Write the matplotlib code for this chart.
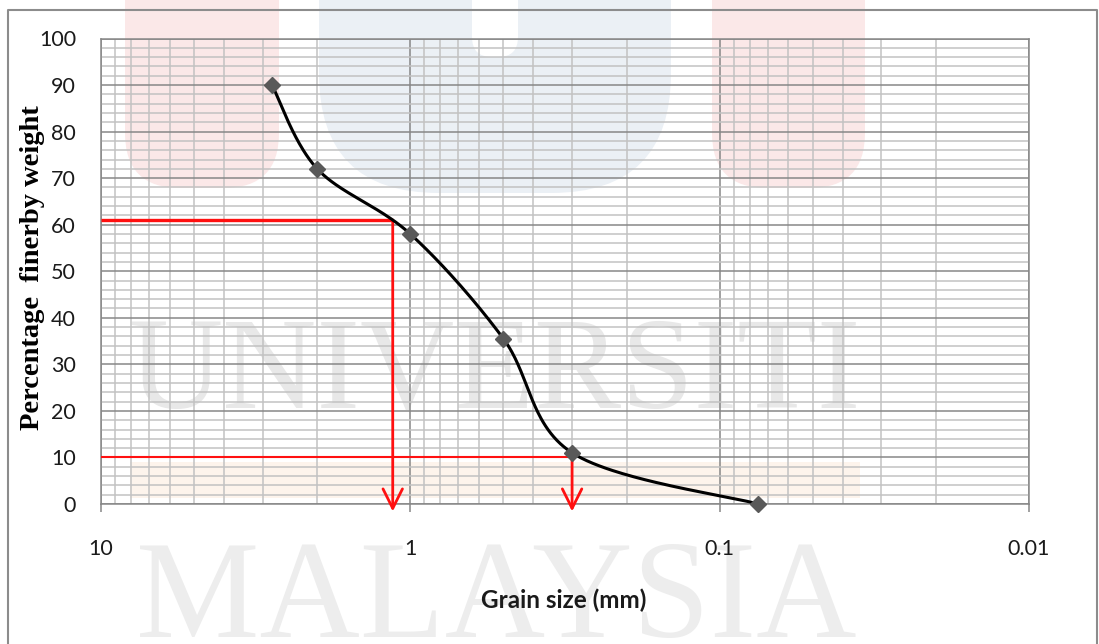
import numpy as np
import matplotlib
matplotlib.use('Agg')
import matplotlib.pyplot as plt
from matplotlib.patches import FancyBboxPatch, Rectangle
from matplotlib.ticker import LogLocator, MultipleLocator, FixedLocator, FixedFormatter, NullFormatter

# ---------------- data ----------------
grain_size = [2.8, 2.0, 1.0, 0.5, 0.3, 0.075]      # mm
percent_finer = [90, 72, 58, 35.5, 11, 0]          # %
d60_size, d60_level = 1.14, 61
d10_size, d10_level = 0.30, 10
x_ticks = [10, 1, 0.1, 0.01]
x_tick_labels = ['10', '1', '0.1', '0.01']
y_ticks = list(range(0, 101, 10))
x_label = 'Grain size (mm)'
y_label = 'Percentage  finerby weight'
watermark_top = 'UNIVERSITI'
watermark_bottom = 'MALAYSIA'

W, H = 1099, 644
fig = plt.figure(figsize=(W / 100, H / 100), dpi=100)
fig.patch.set_facecolor('white')

# ---------------- background (watermark + outer border) ----------------
bg = fig.add_axes([0, 0, 1, 1], zorder=-5)
bg.set_xlim(0, W)
bg.set_ylim(H, 0)
bg.axis('off')

pink = '#fbe8e8'
blue = '#ebf0f5'
bg.add_patch(FancyBboxPatch((125 + 55, -200), 154 - 110, 388 - 55,
                            boxstyle='round,pad=55', fc=pink, ec='none', zorder=0))
bg.add_patch(FancyBboxPatch((712 + 55, -200), 153 - 110, 388 - 55,
                            boxstyle='round,pad=55', fc=pink, ec='none', zorder=0))
bg.add_patch(FancyBboxPatch((319 + 120, -300), 352 - 240, 493 - 120,
                            boxstyle='round,pad=120', fc=blue, ec='none', zorder=0))
bg.add_patch(FancyBboxPatch((472 + 20, -100), 46 - 40, 157 - 20,
                            boxstyle='round,pad=20', fc='white', ec='none', zorder=0.5))
bg.add_patch(Rectangle((130, 462), 730, 36, fc='#fdf4ec', ec='none', zorder=0))

bg.text(494, 408, watermark_top, fontsize=94, family='Liberation Serif',
        color='#e8e8e8', ha='center', va='baseline', zorder=1)
bg.text(496, 637, watermark_bottom, fontsize=100, family='Liberation Serif',
        color='#ededed', ha='center', va='baseline', zorder=1)

bg.plot([8, 8, 1097, 1097], [H + 5, 10, 10, H + 5], color='#8c8c8c', lw=1.5, zorder=2)

# ---------------- main axes ----------------
left, right, top, bottom = 101, 1029, 38.5, 504
ax = fig.add_axes([left / W, 1 - bottom / H, (right - left) / W, (bottom - top) / H])
ax.set_facecolor('none')
ax.set_xscale('log')
ax.set_xlim(10, 0.01)
ax.set_ylim(0, 100)

ax.xaxis.set_major_locator(FixedLocator(x_ticks))
ax.xaxis.set_major_formatter(FixedFormatter(x_tick_labels))
ax.xaxis.set_minor_locator(LogLocator(base=10, subs=np.arange(2, 10)))
ax.xaxis.set_minor_formatter(NullFormatter())
ax.yaxis.set_major_locator(FixedLocator(y_ticks))
ax.yaxis.set_minor_locator(MultipleLocator(2))

major_c = '#878787'
minor_c = '#c2c2c2'
ax.grid(which='minor', color=minor_c, lw=1.1, zorder=1)
ax.grid(which='major', color=major_c, lw=1.1, zorder=1.2)
ax.set_axisbelow(True)
for s in ax.spines.values():
    s.set_color(major_c)
    s.set_linewidth(1.1)

ax.tick_params(axis='x', which='major', length=6, width=1.1, color=major_c, pad=19,
               direction='out')
ax.tick_params(axis='x', which='minor', length=0)
ax.tick_params(axis='y', which='both', length=0, pad=18)
for lab in ax.get_xticklabels() + ax.get_yticklabels():
    lab.set_fontfamily('Lato')
    lab.set_fontsize(15.5)
    lab.set_color('#1a1a1a')

# ---------------- smoothed curve (Excel-style Catmull-Rom in display space) ----------------
def smooth_curve(axis, xs, ys, n=60):
    pts = axis.transData.transform(np.column_stack([xs, ys]))
    P = np.vstack([pts[0], pts, pts[-1]])
    out = []
    t = np.linspace(0, 1, n)[:, None]
    for i in range(1, len(P) - 2):
        p0, p1, p2, p3 = P[i - 1], P[i], P[i + 1], P[i + 2]
        c1 = p1 + (p2 - p0) / 6.0
        c2 = p2 - (p3 - p1) / 6.0
        seg = ((1 - t) ** 3) * p1 + 3 * ((1 - t) ** 2) * t * c1 + 3 * (1 - t) * t ** 2 * c2 + t ** 3 * p2
        out.append(seg if i == 1 else seg[1:])
    out = np.vstack(out)
    data = axis.transData.inverted().transform(out)
    return data[:, 0], data[:, 1]

cx, cy = smooth_curve(ax, grain_size, percent_finer)
ax.plot(cx, cy, color='black', lw=2.2, zorder=5, solid_capstyle='round', clip_on=False)
ax.plot(grain_size, percent_finer, linestyle='none', marker='D', markersize=8.5,
        color='#595959', zorder=6, clip_on=False)

# ---------------- D60 / D10 construction lines ----------------
ax.plot([10, d60_size], [d60_level, d60_level], color='#ff1010', lw=2.4, zorder=4,
        clip_on=False, solid_capstyle='butt')
ax.plot([10, d10_size], [d10_level, d10_level], color='#ff1010', lw=1.5, zorder=4,
        clip_on=False, solid_capstyle='butt')
arrow_kw = dict(arrowstyle='->,head_length=1.4,head_width=0.7', color='#ff1010', lw=2.0,
                shrinkA=0, shrinkB=0, mutation_scale=10)
ax.annotate('', xy=(d60_size, -1.6), xytext=(d60_size, d60_level),
            arrowprops=arrow_kw, annotation_clip=False, zorder=4)
ax.annotate('', xy=(d10_size, -1.6), xytext=(d10_size, d10_level),
            arrowprops=arrow_kw, annotation_clip=False, zorder=4)

# ---------------- labels ----------------
fig.text(564 / W, 1 - 600 / H, x_label, family='Lato', fontweight='bold', fontsize=17.5,
         color='#1a1a1a', ha='center', va='center')
fig.text(32.7 / W, 1 - 268 / H, y_label, family='Liberation Serif', fontweight='bold',
         fontsize=20.5, color='black', rotation=90, ha='center', va='center')

fig.savefig('out.png', dpi=100, facecolor='white')
